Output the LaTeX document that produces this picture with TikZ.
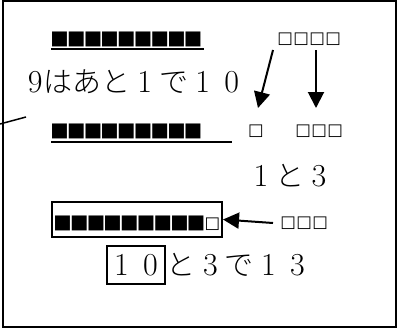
\documentclass[tikz,border=0pt]{standalone}
\usepackage{fontspec}
\newfontfamily\jp{Noto Sans CJK JP Light}
\newfontfamily\sym{DejaVu Sans}
\usetikzlibrary{arrows.meta}
\newcommand{\bsq}{\makebox[16.7pt]{\fontsize{19.5}{19.5}\sym ■}}
\newcommand{\wsq}{\makebox[16pt]{\fontsize{16.5}{16.5}\sym □}}
\newcommand{\zd}[1]{\makebox[1em]{\rmfamily\fontsize{32}{34}\selectfont #1}}
\tikzset{
  arr/.style={line width=2pt,-{Triangle[length=16pt,width=16pt]}},
  txt/.style={inner sep=0pt,font=\fontsize{29}{33}\selectfont},
  sq/.style={inner sep=0pt},
  rule/.style={line width=2pt}
}
\begin{document}
\begin{tikzpicture}[x=1pt,y=-1pt]
\useasboundingbox (0,0) rectangle (398,329);
\draw[line width=2pt] (3,1) rectangle (396,327);
\draw[line width=1.5pt] (0,124) -- (26,117);
% row 1
\node[sq,anchor=west] (r1) at (51,39) {\bsq\bsq\bsq\bsq\bsq\bsq\bsq\bsq\bsq};
\draw[rule] (51,49) -- (204,49);
\node[sq,anchor=west] (q4) at (277,39) {\wsq\wsq\wsq\wsq};
% text
\node[txt,anchor=west] (t1) at (27,82) {\makebox[0.55em]{\rmfamily\fontsize{32}{34}\selectfont 9}{\jp はあと}\zd{1}{\jp で}\zd{1}\zd{0}};
% row 2
\node[sq,anchor=west] (r2) at (51,131) {\bsq\bsq\bsq\bsq\bsq\bsq\bsq\bsq\bsq};
\draw[rule] (51,142) -- (232,142);
\node[sq] (q1) at (256,131) {\wsq};
\node[sq,anchor=west] (q3) at (295,131) {\wsq\wsq\wsq};
\coordinate (a1s) at (273,50);
\coordinate (a1e) at (258,108);
\coordinate (a2s) at (316,50);
\coordinate (a2e) at (316,108);
\draw[arr] (a1s) -- (a1e);
\draw[arr] (a2s) -- (a2e);
\node[txt] (t2) at (290,176) {\zd{1}{\jp と}\zd{3}};
% row 3
\node[draw,line width=2pt,minimum width=170pt,minimum height=35pt,inner sep=0pt] (box) at (137,219.5) {};
\node[sq,anchor=west] (r3) at (54,223) {\bsq\bsq\bsq\bsq\bsq\bsq\bsq\bsq\bsq\wsq};
\node[sq,anchor=west] (w3) at (280,223) {\wsq\wsq\wsq};
\coordinate (a3s) at (273,223);
\draw[arr] (a3s) -- (box.east);
% row 4
\node[txt,draw,line width=1.5pt,minimum width=58pt,minimum height=38pt] (ten) at (136,265) {\zd{1}\zd{0}};
\node[txt,anchor=west] (t4) at ([xshift=1pt]ten.east) {{\jp と}\zd{3}{\jp で}\zd{1}\zd{3}};
\end{tikzpicture}
\end{document}
